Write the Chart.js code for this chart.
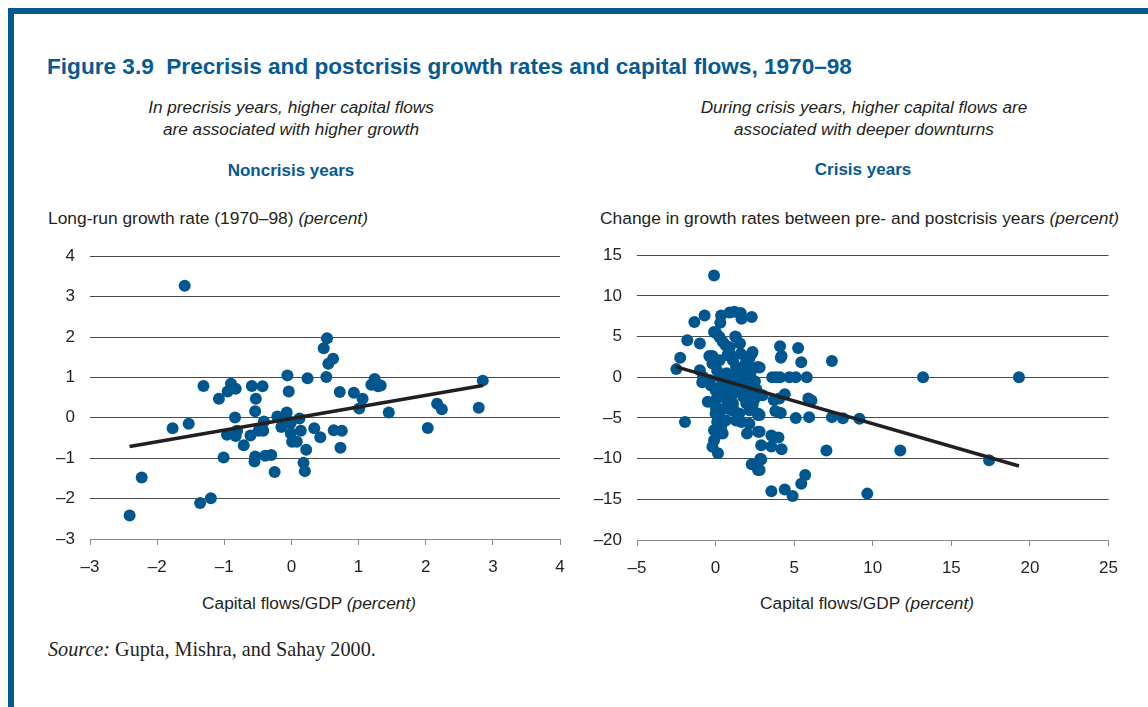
<!DOCTYPE html>
<html>
<head>
<meta charset="utf-8">
<title>Figure 3.9</title>
<script src="https://cdn.jsdelivr.net/npm/chart.js@4.4.1/dist/chart.umd.min.js"></script>
<style>
  html, body { margin:0; padding:0; background:#fff; }
  body { width:1148px; height:707px; position:relative; overflow:hidden; font-family:"Liberation Sans", Arial, sans-serif; color:#231f20; }
  .bar-top { position:absolute; left:8px; top:8px; width:1140px; height:6px; background:#00598f; }
  .bar-left { position:absolute; left:8px; top:8px; width:6px; height:699px; background:#00598f; }
  .txt { position:absolute; white-space:nowrap; }
  .title { left:47px; top:53px; font-size:22.6px; font-weight:bold; color:#065a94; line-height:28px; }
  .sub { width:500px; text-align:center; font-size:17.2px; font-style:italic; line-height:22px; }
  .panel { width:400px; text-align:center; font-size:17px; font-weight:bold; color:#065a94; line-height:20px; }
  .axt { font-size:17.4px; line-height:20px; }
  .axt i, .xt i { font-style:italic; }
  .xt { width:400px; text-align:center; font-size:17.3px; line-height:20px; }
  .src { left:48px; top:636px; font-family:"Liberation Serif", "Times New Roman", serif; font-size:20.2px; line-height:26px; }
  canvas { position:absolute; }
</style>
</head>
<body>
<div class="bar-top"></div>
<div class="bar-left"></div>

<div class="txt title">Figure 3.9&nbsp; Precrisis and postcrisis growth rates and capital flows, 1970–98</div>

<div class="txt sub" style="left:41px;top:96px">In precrisis years, higher capital flows<br>are associated with higher growth</div>
<div class="txt sub" style="left:614px;top:96px">During crisis years, higher capital flows are<br>associated with deeper downturns</div>

<div class="txt panel" style="left:91px;top:161px">Noncrisis years</div>
<div class="txt panel" style="left:663px;top:160px">Crisis years</div>

<div class="txt axt" style="left:48px;top:208px">Long-run growth rate (1970–98) <i>(percent)</i></div>
<div class="txt axt" style="left:600px;top:208px">Change in growth rates between pre- and postcrisis years <i>(percent)</i></div>

<canvas id="chart-left" width="540" height="349" style="left:40px;top:231px"></canvas>
<canvas id="chart-right" width="540" height="350" style="left:590px;top:230px"></canvas>

<div class="txt xt" style="left:109px;top:593px">Capital flows/GDP <i>(percent)</i></div>
<div class="txt xt" style="left:667px;top:593px">Capital flows/GDP <i>(percent)</i></div>

<div class="txt src"><i>Source:</i> Gupta, Mishra, and Sahay 2000.</div>

<script>
// Noncrisis years: capital flows/GDP vs long-run growth
const leftX = [-1.59,-2.41,-2.23,-1.36,-1.20,-1.77,-1.53,-1.31,-1.08,-0.90,-0.95,-0.83,-0.59,-0.43,-0.53,-0.54,-0.84,-0.96,-0.83,-0.81,
  -0.71,-1.01,-0.61,-0.49,-0.42,-0.41,-0.54,-0.55,-0.39,-0.30,-0.25,-0.21,-0.15,-0.07,-0.06,-0.04,-0.03,-0.01,0.01,0.08,
  0.12,0.14,0.22,0.18,0.20,0.24,0.34,0.43,0.53,0.48,0.55,0.62,0.52,0.72,0.93,1.06,1.01,1.24,1.19,1.33,
  1.29,1.45,2.17,2.24,2.79,2.85,2.03,0.63,0.75,0.73,-0.01];
const leftY = [3.27,-2.42,-1.48,-2.11,-1.99,-0.26,-0.15,0.79,0.47,0.84,0.65,0.72,0.79,0.78,0.47,0.16,0.01,-0.42,-0.45,-0.32,
  -0.68,-0.98,-0.44,-0.32,-0.32,-0.09,-0.96,-1.08,-0.94,-0.92,-1.34,0.03,-0.23,0.13,1.05,0.65,-0.09,-0.38,-0.59,-0.59,
  -0.02,-0.32,-0.79,-1.11,-1.32,0.98,-0.26,-0.48,1.97,1.72,1.34,1.46,1.01,0.64,0.62,0.47,0.23,0.96,0.82,0.80,
  0.78,0.13,0.35,0.21,0.25,0.92,-0.25,-0.31,-0.32,-0.74,-0.13];
const leftTrendX = [-2.41, 2.85];
const leftTrendY = [-0.71, 0.80];
const leftXTicks = [-3,-2,-1,0,1,2,3,4];
const leftYTicks = [-3,-2,-1,0,1,2,3,4];

// Crisis years: capital flows/GDP vs change in growth
const rightX = [-0.1,
  -1.35,-0.7,0.35,0.3,0.9,1.2,1.6,1.65,2.3,
  -1.8,-1.0,-0.1,0.05,0.25,0.45,0.65,0.9,1.25,1.3,1.55,
  -2.25,-2.5,-0.4,-0.2,0.25,0.75,0.95,1.1,1.6,2.15,2.35,2.3,1.9,1.95,1.3,2.45,2.7,2.8,-0.2,
  -1.0,-0.8,-0.4,0.25,0.9,1.3,1.85,-0.85,
  4.1,4.2,4.15,5.25,5.45,7.4,
  3.6,3.85,4.1,4.7,5.1,5.8,13.2,19.3,
  3.0,4.4,3.7,4.05,5.9,6.1,3.8,4.15,2.8,5.1,5.95,7.4,8.1,9.15,
  2.8,3.55,4.0,2.9,3.55,4.2,7.05,11.75,2.9,2.8,2.3,5.7,5.45,3.55,4.4,4.9,9.65,17.4,
  -1.95,-0.5,
  0.0,0.0,0.0,0.0,0.1,-0.1,0.25,-0.1,-0.2,0.15,0.25,0.35,0.45,
  0.65,1.1,1.0,1.5,1.3,1.65,1.75,2.15,1.95,2.45,2.8,2.15,2.7,
  0.25,0.75,0.05,0.55,1.1,2.05,2.35,2.7,0.65,2.15,
  2.0,2.7,2.85,2.7,
  0.5,1.0,1.5,2.0,2.5,0.3,0.7,1.6,2.2,-0.3,0.6,1.2,1.8,2.6,0.1,1.4];
const rightY = [12.5,
  6.8,7.6,7.6,6.7,7.95,8.05,7.9,7.2,7.4,
  4.55,4.15,5.55,5.4,4.95,4.35,3.9,3.7,5.0,4.95,4.15,
  2.4,1.0,2.6,2.6,2.1,2.7,2.7,2.1,2.9,2.3,3.1,2.9,1.7,1.45,1.3,1.1,1.25,1.2,1.7,
  0.85,0.05,-0.35,0.05,0.05,-0.35,0.05,-0.6,
  3.8,2.6,2.4,3.6,1.85,2.0,
  0,0,0,0,0,0,0,0,
  -2.2,-2.1,-2.8,-2.6,-2.6,-2.85,-4.15,-4.4,-4.65,-5.0,-4.9,-4.9,-5.05,-5.1,
  -6.7,-7.15,-7.4,-8.35,-8.5,-8.85,-9.0,-9.0,-10.1,-11.4,-10.7,-12.0,-13.1,-14.0,-13.8,-14.6,-14.3,-10.2,
  -5.5,-3.0,
  -1.6,-2.8,-3.6,-4.5,-5.5,-6.5,-6.9,-7.75,-8.55,-9.35,-4.9,-6.1,-6.9,
  -2.4,-3.2,-4.05,-4.45,-5.3,-5.5,-2.4,-2.0,-3.2,-2.8,-2.2,-4.05,-4.65,
  -2.4,-2.85,-4.05,-3.85,-3.65,-2.6,-3.45,-4.45,-5.3,-5.7,
  -6.9,-6.7,-10.0,-11.4,
  -0.5,-1.0,-0.8,-1.2,-0.5,-1.2,0.5,0.6,0.3,-1.0,-1.7,-1.9,-1.6,-1.5,0.8,1.0];
const rightTrendX = [-2.55, 19.3];
const rightTrendY = [1.3, -10.9];
const rightXTicks = [-5,0,5,10,15,20,25];
const rightYTicks = [-20,-15,-10,-5,0,5,10,15];

const INK = '#231f20';
const DOT = '#00578f';
const tickFont = { family:'"Liberation Sans", Arial, sans-serif', size:17 };
const dash = v => String(v).replace('-', '\u2013');

function pairs(xs, ys) { return xs.map((x, i) => ({ x, y: ys[i] })); }

// y ticks reserve half a label plus padding above the plot, so the
// canvas sits that much higher than the top gridline
function makeChart(id, o) {
  return new Chart(document.getElementById(id), {
    type: 'scatter',
    data: {
      datasets: [
        { type:'line', data: pairs(o.trendX, o.trendY), borderColor: INK, borderWidth: 3.5,
          pointRadius: 0, fill: false, order: 0 },
        { data: pairs(o.xs, o.ys), backgroundColor: DOT, borderWidth: 0, pointRadius: 6, order: 1 }
      ]
    },
    options: {
      responsive: false,
      animation: false,
      events: [],
      layout: { padding: { top: 0, right: o.padRight, left: 0, bottom: 0 } },
      plugins: { legend: { display:false }, tooltip: { enabled:false } },
      scales: {
        x: {
          type: 'linear', min: o.xTicks[0], max: o.xTicks[o.xTicks.length - 1],
          afterBuildTicks: s => { s.ticks = o.xTicks.map(v => ({ value: v })); },
          afterFit: s => { s.height = o.xHeight; },
          grid: { drawOnChartArea: false, drawTicks: true, tickLength: 6, color: '#8a8a8a' },
          border: { display: true, color: '#8a8a8a', width: 1 },
          ticks: { font: tickFont, color: INK, padding: 12, maxRotation: 0, callback: dash }
        },
        y: {
          type: 'linear', min: o.yTicks[0], max: o.yTicks[o.yTicks.length - 1],
          afterBuildTicks: s => { s.ticks = o.yTicks.map(v => ({ value: v })); },
          afterFit: s => { s.width = o.yWidth; },
          grid: { drawTicks: false, color: '#4a4a4a', lineWidth: 1 },
          border: { display: false },
          ticks: { font: tickFont, color: INK, padding: 15, callback: dash }
        }
      }
    }
  });
}

makeChart('chart-left', {
  xs: leftX, ys: leftY, trendX: leftTrendX, trendY: leftTrendY,
  xTicks: leftXTicks, yTicks: leftYTicks,
  padRight: 20, xHeight: 41, yWidth: 50
});

makeChart('chart-right', {
  xs: rightX, ys: rightY, trendX: rightTrendX, trendY: rightTrendY,
  xTicks: rightXTicks, yTicks: rightYTicks,
  padRight: 21, xHeight: 40, yWidth: 47
});
</script>
</body>
</html>
